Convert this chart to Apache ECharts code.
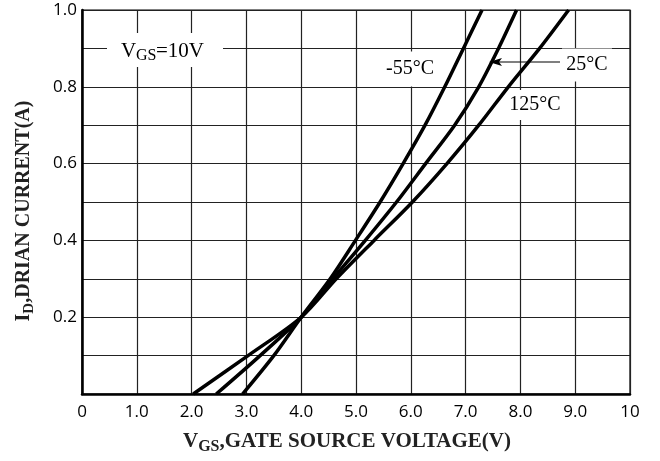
<!DOCTYPE html>
<html>
<head>
<meta charset="utf-8">
<script src="https://cdn.jsdelivr.net/npm/echarts@6/dist/echarts.min.js"></script>
<style>
html,body{margin:0;padding:0;background:#fff}
#chart{width:660px;height:461px}
</style>
</head>
<body>
<div id="chart"></div>
<script>
// drain current levels (A) where the curves were read
var idLevels = [0, 0.1, 0.2, 0.3, 0.4, 0.5, 0.6, 0.7, 0.8, 0.9, 1.0];
// gate-source voltage (V) at each level, one list per temperature
var vgsMinus55 = [2.93, 3.50, 4.00, 4.53, 4.99, 5.44, 5.86, 6.26, 6.62, 6.96, 7.30];
var vgs25 = [2.45, 3.25, 4.00, 4.58, 5.17, 5.74, 6.27, 6.80, 7.24, 7.60, 7.93];
var vgs125 = [2.03, 3.03, 4.00, 4.64, 5.33, 6.03, 6.66, 7.24, 7.78, 8.35, 8.88];
var curveNames = ['-55°C', '25°C', '125°C'];
var xTickLabels = ['0', '1.0', '2.0', '3.0', '4.0', '5.0', '6.0', '7.0', '8.0', '9.0', '10'];
var yTickLabels = ['', '', '0.2', '', '0.4', '', '0.6', '', '0.8', '', '1.0'];

var serif = '"Liberation Serif", "Times New Roman", serif';
var sans = '"Open Sans", sans-serif';

function pairs(xs) {
    var out = [];
    for (var i = 0; i < xs.length; i++) {
        out.push([xs[i], idLevels[i]]);
    }
    return out;
}

function curve(name, xs) {
    return {
        name: name,
        type: 'line',
        data: pairs(xs),
        smooth: 0.3,
        symbol: 'none',
        lineStyle: { color: '#000', width: 3.5 },
        z: 5
    };
}

function label(text, cx, cy, w, h) {
    return [
        { type: 'rect', z: 50, shape: { x: cx - w / 2, y: cy - h / 2, width: w, height: h }, style: { fill: '#fff' } },
        { type: 'text', z: 51, style: { x: cx, y: cy, text: text, font: '20px ' + serif, fill: '#000', align: 'center', verticalAlign: 'middle' } }
    ];
}

var myChart = echarts.init(document.getElementById('chart'));

var graphics = [];
graphics = graphics.concat(label(curveNames[0], 410, 69, 54, 35));
graphics = graphics.concat(label(curveNames[1], 587, 65, 50, 33));
graphics = graphics.concat(label(curveNames[2], 535, 105, 52, 30));
// VGS=10V note
graphics.push({ type: 'rect', z: 50, shape: { x: 107, y: 33, width: 116, height: 34 }, style: { fill: '#fff' } });
graphics.push({ type: 'text', z: 51, style: { x: 121, y: 51, text: 'V', font: '21px ' + serif, fill: '#000', align: 'left', verticalAlign: 'middle' } });
graphics.push({ type: 'text', z: 51, style: { x: 136, y: 56, text: 'GS', font: '16px ' + serif, fill: '#000', align: 'left', verticalAlign: 'middle' } });
graphics.push({ type: 'text', z: 51, style: { x: 156, y: 51, text: '=10V', font: '21px ' + serif, fill: '#000', align: 'left', verticalAlign: 'middle' } });
// arrow pointing at the 25°C curve
graphics.push({ type: 'line', z: 51, shape: { x1: 560, y1: 62, x2: 498, y2: 62 }, style: { stroke: '#000', lineWidth: 1.2 } });
graphics.push({ type: 'polygon', z: 51, shape: { points: [[489, 62], [502, 58], [499, 62], [502, 66]] }, style: { fill: '#000' } });

var option = {
    backgroundColor: '#fff',
    animation: false,
    grid: {
        left: 82, right: 30, top: 10, bottom: 67,
        show: true, borderColor: '#000', borderWidth: 1.2
    },
    xAxis: {
        type: 'value',
        min: 0, max: 10, interval: 1,
        name: '{m|V}{s|GS}{m|,GATE SOURCE VOLTAGE(V)}',
        nameLocation: 'middle',
        nameGap: 37,
        nameTextStyle: {
            padding: [0, 18, 0, 0],
            rich: {
                m: { fontFamily: serif, fontWeight: 'bold', fontSize: 21, color: '#222', verticalAlign: 'bottom', padding: [0, 0, 3, 0] },
                s: { fontFamily: serif, fontWeight: 'bold', fontSize: 16, color: '#222', verticalAlign: 'bottom' }
            }
        },
        axisLine: { onZero: false, lineStyle: { color: '#000', width: 2.5 } },
        axisTick: { show: false },
        axisLabel: {
            margin: 10,
            fontFamily: sans, fontSize: 17, color: '#000',
            formatter: function (v) { return xTickLabels[Math.round(v)]; }
        },
        splitLine: { show: true, lineStyle: { color: '#222', width: 1.2 } }
    },
    yAxis: {
        type: 'value',
        min: 0, max: 1, interval: 0.1,
        name: '{m|I}{s|D}{m|,DRIAN CURRENT(A)}',
        nameLocation: 'middle',
        nameRotate: 90,
        nameGap: 45,
        nameTextStyle: {
            padding: [0, 18, 0, 0],
            rich: {
                m: { fontFamily: serif, fontWeight: 'bold', fontSize: 20, color: '#222', verticalAlign: 'bottom', padding: [0, 0, 3, 0] },
                s: { fontFamily: serif, fontWeight: 'bold', fontSize: 15, color: '#222', verticalAlign: 'bottom' }
            }
        },
        axisLine: { show: true, lineStyle: { color: '#000', width: 2.5 } },
        axisTick: { show: false },
        axisLabel: {
            margin: 5,
            fontFamily: sans, fontSize: 17, color: '#000',
            formatter: function (v) { return yTickLabels[Math.round(v * 10)]; }
        },
        splitLine: { show: true, lineStyle: { color: '#222', width: 1.2 } }
    },
    series: [
        curve(curveNames[0], vgsMinus55),
        curve(curveNames[1], vgs25),
        curve(curveNames[2], vgs125)
    ],
    graphic: graphics
};

myChart.setOption(option);
</script>
</body>
</html>
